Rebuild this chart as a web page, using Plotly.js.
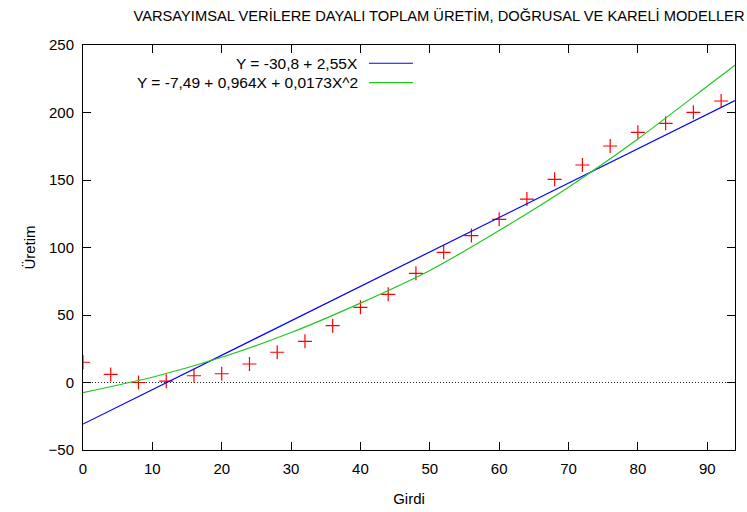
<!DOCTYPE html>
<html>
<head>
<meta charset="utf-8">
<script src="https://cdn.plot.ly/plotly-3.0.1.min.js"></script>
<style>html,body{margin:0;padding:0;background:#fff;}#chart{width:747px;height:512px;}</style>
</head>
<body>
<div id="chart"></div>
<script>
// Observed data (Girdi vs Üretim)
const girdi = [0, 4, 8, 12, 16, 20, 24, 28, 32, 36, 40, 44, 48, 52, 56, 60, 64, 68, 72, 76, 80, 84, 88, 92];
const uretim = [15, 6, 0, 1, 5, 6.5, 13.7, 22.4, 30.5, 42.1, 55.7, 65.3, 80.9, 96.4, 108.8, 120.9, 135.9, 150.5, 161.1, 175.2, 185.3, 192, 200.1, 208.5];

// Linear model line (read at the plot edges)
const linX = [0, 94];
const linY = [-30.8, 208.9];
const linLabel = 'Y = -30,8 + 2,55X';

// Quadratic model curve (read at several points)
const quadX = [0, 10, 20, 30, 40, 50, 60, 70, 80, 90, 94];
const quadY = [-7.5, 3.9, 18.7, 37.0, 58.8, 83.0, 112.6, 144.7, 180.4, 219.4, 235.0];
const quadLabel = 'Y = -7,49 + 0,964X + 0,0173X^2';

const titleText = 'VARSAYIMSAL VERİLERE DAYALI TOPLAM ÜRETİM, DOĞRUSAL VE KARELİ MODELLER';
const xTitle = 'Girdi';
const yTitle = 'Üretim';

const blue = '#0000ff';
const green = '#1ec81e';
const FONT = 'Liberation Sans, Arial, sans-serif';

const traces = [
  {x: girdi, y: uretim, type: 'scatter', mode: 'markers', showlegend: false,
   marker: {symbol: 'cross-thin-open', size: 10, color: '#ff0000', line: {color: '#ff0000', width: 1.2}}},
  {x: linX, y: linY, type: 'scatter', mode: 'lines', showlegend: false,
   line: {color: blue, width: 1.2}},
  {x: quadX, y: quadY, type: 'scatter', mode: 'lines', showlegend: false,
   line: {color: green, width: 1.2, shape: 'spline', smoothing: 0.6}}
];

const axisCommon = {
  showgrid: false, zeroline: false, showline: true, mirror: 'allticks',
  linecolor: '#000', linewidth: 1, ticks: 'inside', ticklen: 8, tickcolor: '#000', tickwidth: 1,
  ticklabelstandoff: 5,
  tickfont: {family: FONT, size: 15, color: '#000'}
};

const layout = {
  width: 747, height: 512,
  margin: {l: 83, r: 12, t: 45, b: 62},
  paper_bgcolor: '#fff', plot_bgcolor: '#fff',
  title: {text: titleText, font: {family: FONT, size: 14.7, color: '#000'}, x: 0.546, xref: 'paper', xanchor: 'center', y: 1 - 16/512, yanchor: 'middle'},
  xaxis: Object.assign({}, axisCommon, {range: [0, 94], dtick: 10, tick0: 0,
    title: {text: xTitle, font: {family: FONT, size: 15, color: '#000'}, standoff: 17}}),
  yaxis: Object.assign({}, axisCommon, {range: [-50, 250], dtick: 50, tick0: 0,
    title: {text: yTitle, font: {family: FONT, size: 15, color: '#000'}, standoff: 9}}),
  shapes: [
    {type: 'line', xref: 'paper', yref: 'y', x0: 0, x1: 1, y0: 0, y1: 0, line: {color: '#222', width: 1, dash: '1px,2px'}, layer: 'below'},
    {type: 'line', xref: 'paper', yref: 'paper', x0: 0.4386, x1: 0.5061, y0: 0.955, y1: 0.955, line: {color: blue, width: 1.2}},
    {type: 'line', xref: 'paper', yref: 'paper', x0: 0.4386, x1: 0.5061, y0: 0.907, y1: 0.907, line: {color: green, width: 1.2}}
  ],
  annotations: [
    {xref: 'paper', yref: 'paper', x: 0.4246, y: 0.955, xanchor: 'right', yanchor: 'middle', showarrow: false, text: linLabel, font: {family: FONT, size: 15.5, color: '#000'}},
    {xref: 'paper', yref: 'paper', x: 0.4246, y: 0.907, xanchor: 'right', yanchor: 'middle', showarrow: false, text: quadLabel, font: {family: FONT, size: 15.5, color: '#000'}}
  ]
};

Plotly.newPlot('chart', traces, layout, {displayModeBar: false, staticPlot: true});
</script>
</body>
</html>
